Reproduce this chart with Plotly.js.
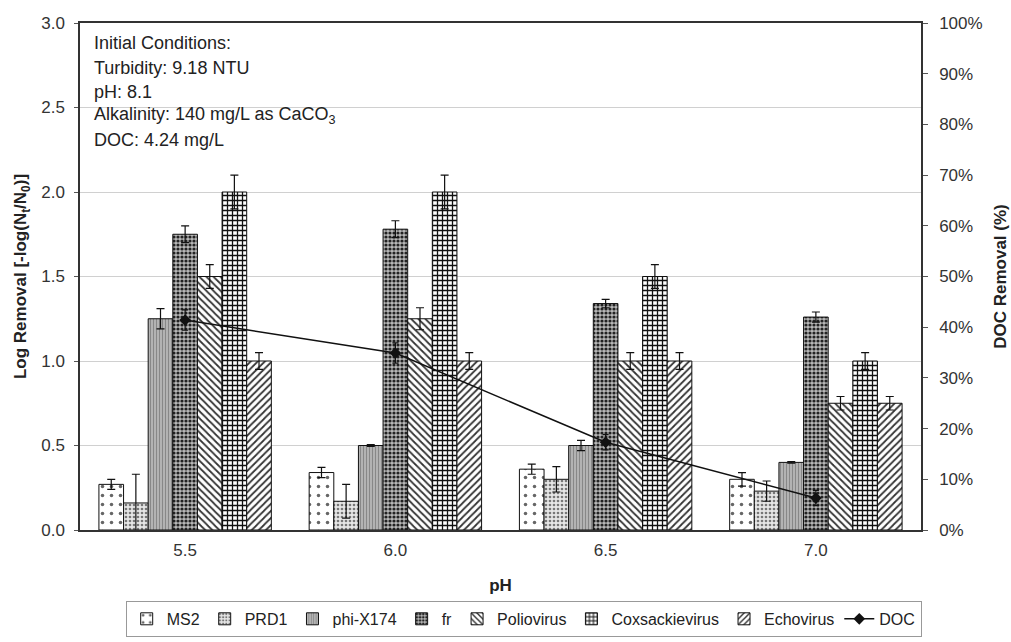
<!DOCTYPE html>
<html>
<head>
<meta charset="utf-8">
<script src="https://cdn.plot.ly/plotly-3.0.1.min.js"></script>
<style>html,body{margin:0;padding:0;background:#fff;}#chart{width:1011px;height:642px;}</style>
</head>
<body>
<div id="chart"></div>
<script>
const categories = ["5.5", "6.0", "6.5", "7.0"];
const ms2 = [0.27, 0.34, 0.36, 0.30];
const ms2Err = [0.03, 0.03, 0.03, 0.04];
const prd1 = [0.16, 0.17, 0.30, 0.23];
const prd1Err = [0.17, 0.10, 0.075, 0.06];
const phiX174 = [1.25, 0.50, 0.50, 0.40];
const phiX174Err = [0.06, 0.005, 0.03, 0.005];
const fr = [1.75, 1.78, 1.34, 1.26];
const frErr = [0.05, 0.05, 0.025, 0.03];
const polio = [1.50, 1.25, 1.00, 0.75];
const polioErr = [0.07, 0.065, 0.05, 0.04];
const coxsackie = [2.00, 2.00, 1.50, 1.00];
const coxsackieErr = [0.10, 0.10, 0.07, 0.05];
const echo = [1.00, 1.00, 1.00, 0.75];
const echoErr = [0.05, 0.05, 0.05, 0.04];
const doc = [41.4, 34.9, 17.3, 6.3];
const docErr = [2, 2, 1.5, 1.5];
const y2Ticks = [0, 10, 20, 30, 40, 50, 60, 70, 80, 90, 100];
const noteLines = ["Initial Conditions:", "Turbidity: 9.18 NTU", "pH: 8.1",
  "Alkalinity: 140 mg/L as CaCO<sub>3</sub>", "DOC: 4.24 mg/L"];

function barTrace(name, vals, errs, pat) {
  return {
    type: "bar", name: name, x: categories, y: vals,
    error_y: {type: "data", array: errs, visible: true, color: "#111", thickness: 1.2, width: 4},
    marker: {color: pat.bg, line: {color: "#111", width: 1}, pattern: pat.p},
  };
}

const traces = [
  barTrace("MS2", ms2, ms2Err, {bg: "#ffffff", p: {shape: ".", fgcolor: "#666", bgcolor: "#ffffff", size: 9, solidity: 0.12}}),
  barTrace("PRD1", prd1, prd1Err, {bg: "#e6e6e6", p: {shape: ".", fgcolor: "#777", bgcolor: "#e6e6e6", size: 4, solidity: 0.35}}),
  barTrace("phi-X174", phiX174, phiX174Err, {bg: "#b0b0b0", p: {shape: "|", fgcolor: "#888", bgcolor: "#b8b8b8", size: 3, solidity: 0.4}}),
  barTrace("fr", fr, frErr, {bg: "#999", p: {shape: ".", fgcolor: "#222", bgcolor: "#b8b8b8", size: 4, solidity: 0.5}}),
  barTrace("Poliovirus", polio, polioErr, {bg: "#fff", p: {shape: "\\", fgcolor: "#333", bgcolor: "#ffffff", size: 5, solidity: 0.35}}),
  barTrace("Coxsackievirus", coxsackie, coxsackieErr, {bg: "#fff", p: {shape: "+", fgcolor: "#111", bgcolor: "#ffffff", size: 5, solidity: 0.45}}),
  barTrace("Echovirus", echo, echoErr, {bg: "#fff", p: {shape: "/", fgcolor: "#333", bgcolor: "#ffffff", size: 5, solidity: 0.35}}),
  {
    type: "scatter", mode: "lines+markers", name: "DOC", x: categories, y: doc, yaxis: "y2",
    line: {color: "#111", width: 1.5},
    marker: {symbol: "diamond", size: 9, color: "#111"},
    error_y: {type: "data", array: docErr, visible: true, color: "#111", thickness: 1.2, width: 3},
  }
];

const noteY = [0.9606, 0.911, 0.864, 0.8185, 0.769];
const annotations = noteLines.map((t, i) => ({
  xref: "paper", yref: "paper", x: 0.014, y: noteY[i], xanchor: "left", yanchor: "middle",
  align: "left", showarrow: false, font: {size: 18, color: "#222"}, text: t
}));

const layout = {
  width: 1011, height: 642,
  margin: {l: 80, r: 90, t: 23, b: 112},
  paper_bgcolor: "#fff", plot_bgcolor: "#fff",
  font: {family: "Liberation Sans, Arial, sans-serif", size: 17, color: "#222"},
  barmode: "group", bargap: 0.18, bargroupgap: 0,
  showlegend: true,
  legend: {
    orientation: "h", xref: "container", yref: "container",
    x: 0.518, xanchor: "center", y: 0.064, yanchor: "top",
    bordercolor: "#999", borderwidth: 1, font: {size: 16, color: "#222"},
    traceorder: "normal", tracegroupgap: 0, itemwidth: 30
  },
  xaxis: {
    type: "category", showline: true, linecolor: "#333", linewidth: 1.5, mirror: true,
    ticks: "", tickfont: {size: 17, color: "#333"}, showgrid: false, automargin: false,
    ticklabelstandoff: 4,
    title: {text: "<b>pH</b>", font: {size: 17}, standoff: 20}
  },
  yaxis: {
    range: [0, 3], dtick: 0.5, tickformat: ".1f", showline: true, linecolor: "#333", linewidth: 1.5,
    ticks: "outside", ticklen: 4, tickcolor: "#555", showgrid: true, gridcolor: "#d0d0d0", gridwidth: 1,
    zeroline: false, tickfont: {size: 17, color: "#333"}, automargin: false, ticklabelstandoff: 6,
    title: {text: "<b>Log Removal [-log(N<sub>t</sub>/N<sub>0</sub>)]</b>", font: {size: 17}, standoff: 10}
  },
  yaxis2: {
    overlaying: "y", side: "right", range: [0, 100], tickvals: y2Ticks,
    ticktext: y2Ticks.map(v => v + "%"), showline: true, linecolor: "#333", linewidth: 1.5,
    ticks: "outside", ticklen: 5, tickcolor: "#555", showgrid: false, zeroline: false,
    tickfont: {size: 17, color: "#333"}, automargin: false, ticklabelstandoff: 8,
    title: {text: "<b>DOC Removal (%)</b>", font: {size: 17}, standoff: 12}
  },
  annotations: annotations
};

Plotly.newPlot("chart", traces, layout, {displayModeBar: false, responsive: false});
</script>
</body>
</html>
